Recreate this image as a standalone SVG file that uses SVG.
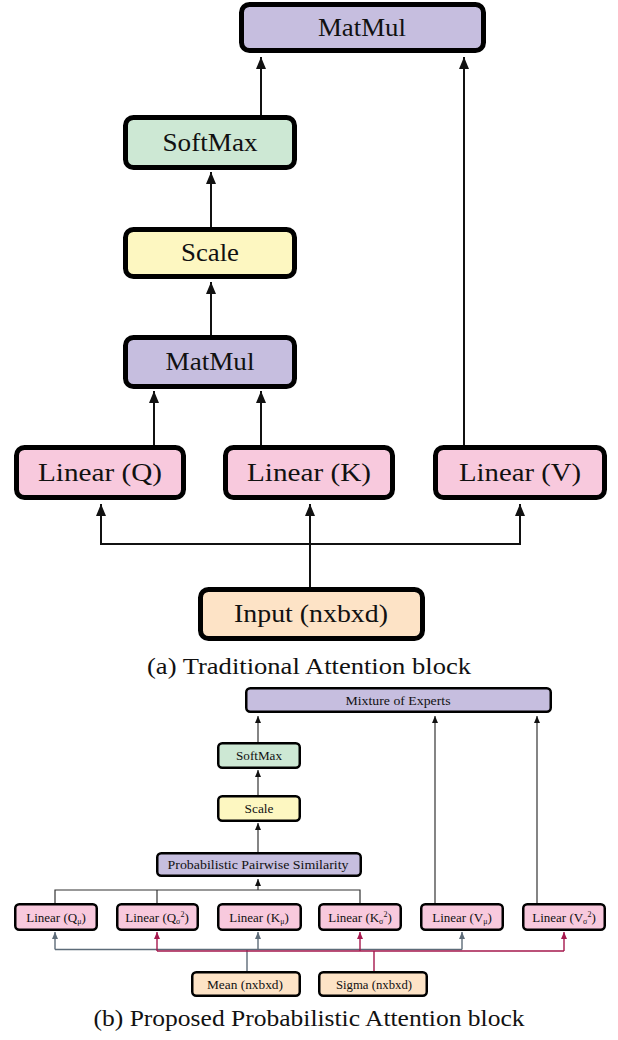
<svg xmlns="http://www.w3.org/2000/svg" width="618" height="1040" viewBox="0 0 618 1040">
  <style>
    text { font-family: "Times New Roman", "Liberation Serif", Tinos, serif; fill: #111; text-anchor: middle; }
    .big { font-size: 26px; }
    .small { font-size: 13px; }
    .cap { font-size: 23px; }
    .boxA { stroke: #000; stroke-width: 5; }
    .boxB { stroke: #000; stroke-width: 2.5; }
    .purple { fill: #c6bedf; }
    .green { fill: #cde8d4; }
    .yellow { fill: #fdf7c1; }
    .pink { fill: #f8c9dd; }
    .peach { fill: #fde3c6; }
    .wA { fill: none; stroke: #111; stroke-width: 2; }
    .wB { fill: none; stroke: #333; stroke-width: 1.2; }
    .wGray { fill: none; stroke: #5d6b78; stroke-width: 1.4; }
    .wRed { fill: none; stroke: #a5174d; stroke-width: 1.4; }
  </style>
  <defs>
    <marker id="arrA" markerUnits="userSpaceOnUse" markerWidth="12" markerHeight="12" viewBox="0 0 12 10" refX="12" refY="5" orient="auto">
      <path d="M0,0 L12,5 L0,10 z" fill="#111"/>
    </marker>
    <marker id="arrB" markerUnits="userSpaceOnUse" markerWidth="7" markerHeight="7" viewBox="0 0 7 6" refX="7" refY="3" orient="auto">
      <path d="M0,0 L7,3 L0,6 z" fill="#111"/>
    </marker>
    <marker id="arrGray" markerUnits="userSpaceOnUse" markerWidth="7" markerHeight="7" viewBox="0 0 7 6" refX="7" refY="3" orient="auto">
      <path d="M0,0 L7,3 L0,6 z" fill="#5d6b78"/>
    </marker>
    <marker id="arrRed" markerUnits="userSpaceOnUse" markerWidth="7" markerHeight="7" viewBox="0 0 7 6" refX="7" refY="3" orient="auto">
      <path d="M0,0 L7,3 L0,6 z" fill="#a5174d"/>
    </marker>
  </defs>

  <!-- (a) traditional attention: connectors -->
  <g id="connectors-a">
    <path class="wA" d="M261,115 V57" marker-end="url(#arrA)"/>
    <path class="wA" d="M464,445 V57" marker-end="url(#arrA)"/>
    <path class="wA" d="M211,227 V172" marker-end="url(#arrA)"/>
    <path class="wA" d="M211,335 V282" marker-end="url(#arrA)"/>
    <path class="wA" d="M154,445 V391" marker-end="url(#arrA)"/>
    <path class="wA" d="M261,445 V391" marker-end="url(#arrA)"/>
    <path class="wA" d="M310,587 V504" marker-end="url(#arrA)"/>
    <path class="wA" d="M310,544 H101 V504" marker-end="url(#arrA)"/>
    <path class="wA" d="M310,544 H520 V504" marker-end="url(#arrA)"/>
  </g>

  <!-- (a) nodes -->
  <g id="a-matmul-out">
    <rect class="boxA purple" x="241.5" y="4.5" width="242" height="46" rx="8"/>
    <text class="big" x="362" y="36" textLength="88" lengthAdjust="spacingAndGlyphs">MatMul</text>
  </g>
  <g id="a-softmax">
    <rect class="boxA green" x="125.5" y="117.5" width="169" height="50" rx="8"/>
    <text class="big" x="210" y="151" textLength="95" lengthAdjust="spacingAndGlyphs">SoftMax</text>
  </g>
  <g id="a-scale">
    <rect class="boxA yellow" x="125.5" y="229.5" width="169" height="47" rx="8"/>
    <text class="big" x="210" y="261" textLength="58" lengthAdjust="spacingAndGlyphs">Scale</text>
  </g>
  <g id="a-matmul">
    <rect class="boxA purple" x="125.5" y="337.5" width="169" height="49" rx="8"/>
    <text class="big" x="210" y="370" textLength="89" lengthAdjust="spacingAndGlyphs">MatMul</text>
  </g>
  <g id="a-linear-q">
    <rect class="boxA pink" x="16.5" y="447.5" width="167" height="50" rx="8"/>
    <text class="big" x="100" y="481" textLength="124" lengthAdjust="spacingAndGlyphs">Linear  (Q)</text>
  </g>
  <g id="a-linear-k">
    <rect class="boxA pink" x="225.5" y="447.5" width="167" height="50" rx="8"/>
    <text class="big" x="309" y="481" textLength="124" lengthAdjust="spacingAndGlyphs">Linear  (K)</text>
  </g>
  <g id="a-linear-v">
    <rect class="boxA pink" x="435.5" y="447.5" width="169" height="50" rx="8"/>
    <text class="big" x="520" y="481" textLength="122" lengthAdjust="spacingAndGlyphs">Linear  (V)</text>
  </g>
  <g id="a-input">
    <rect class="boxA peach" x="200.5" y="589.5" width="222" height="49" rx="8"/>
    <text class="big" x="311" y="622" textLength="154" lengthAdjust="spacingAndGlyphs">Input  (nxbxd)</text>
  </g>
  <text id="caption-a" class="cap" x="309" y="674" textLength="324" lengthAdjust="spacingAndGlyphs">(a) Traditional Attention block</text>

  <!-- (b) probabilistic attention: connectors -->
  <g id="connectors-b">
    <path class="wB" d="M258,742 V716" marker-end="url(#arrB)"/>
    <path class="wB" d="M435,903 V716" marker-end="url(#arrB)"/>
    <path class="wB" d="M537,903 V716" marker-end="url(#arrB)"/>
    <path class="wB" d="M258,795 V770" marker-end="url(#arrB)"/>
    <path class="wB" d="M258,852 V823" marker-end="url(#arrB)"/>
    <path class="wB" d="M258,890 V879" marker-end="url(#arrB)"/>
    <path class="wB" d="M55,903 V890 H360 V903"/>
    <path class="wB" d="M157,890 V903"/>
    <!-- mean distribution fan-out -->
    <path class="wGray" d="M247,971 V949.5"/>
    <path class="wGray" d="M55,949.5 H462"/>
    <path class="wGray" d="M55,949.5 V932" marker-end="url(#arrGray)"/>
    <path class="wGray" d="M258,949.5 V932" marker-end="url(#arrGray)"/>
    <path class="wGray" d="M462,949.5 V932" marker-end="url(#arrGray)"/>
    <!-- sigma distribution fan-out -->
    <path class="wRed" d="M374,971 V951"/>
    <path class="wRed" d="M157,951 H564"/>
    <path class="wRed" d="M157,951 V932" marker-end="url(#arrRed)"/>
    <path class="wRed" d="M360,951 V932" marker-end="url(#arrRed)"/>
    <path class="wRed" d="M564,951 V932" marker-end="url(#arrRed)"/>
  </g>

  <!-- (b) nodes -->
  <g id="b-moe">
    <rect class="boxB purple" x="246.25" y="688.25" width="304.5" height="23.5" rx="4"/>
    <text class="small" x="398" y="704.5" textLength="105" lengthAdjust="spacingAndGlyphs">Mixture  of Experts</text>
  </g>
  <g id="b-softmax">
    <rect class="boxB green" x="218.25" y="743.25" width="81.5" height="24.5" rx="4"/>
    <text class="small" x="259" y="760" textLength="46" lengthAdjust="spacingAndGlyphs">SoftMax</text>
  </g>
  <g id="b-scale">
    <rect class="boxB yellow" x="218.25" y="796.25" width="81.5" height="24.5" rx="4"/>
    <text class="small" x="259" y="813" textLength="29" lengthAdjust="spacingAndGlyphs">Scale</text>
  </g>
  <g id="b-similarity">
    <rect class="boxB purple" x="157.25" y="853.25" width="203.5" height="22.5" rx="4"/>
    <text class="small" x="258" y="869" textLength="181" lengthAdjust="spacingAndGlyphs">Probabilistic  Pairwise  Similarity</text>
  </g>
  <g id="b-linear-q-mu">
    <rect class="boxB pink" x="15.25" y="904.25" width="81.5" height="25.5" rx="4"/>
    <text class="small" x="56" y="921.5">Linear (Q<tspan font-size="8" dy="2">μ</tspan><tspan dy="-2">)</tspan></text>
  </g>
  <g id="b-linear-q-sigma">
    <rect class="boxB pink" x="117.25" y="904.25" width="80.5" height="25.5" rx="4"/>
    <text class="small" x="157" y="921.5">Linear (Q<tspan font-size="8" dy="2">σ</tspan><tspan font-size="8" dy="-7">2</tspan><tspan dy="5">)</tspan></text>
  </g>
  <g id="b-linear-k-mu">
    <rect class="boxB pink" x="218.25" y="904.25" width="82.5" height="25.5" rx="4"/>
    <text class="small" x="259" y="921.5">Linear (K<tspan font-size="8" dy="2">μ</tspan><tspan dy="-2">)</tspan></text>
  </g>
  <g id="b-linear-k-sigma">
    <rect class="boxB pink" x="319.25" y="904.25" width="81.5" height="25.5" rx="4"/>
    <text class="small" x="360" y="921.5">Linear (K<tspan font-size="8" dy="2">σ</tspan><tspan font-size="8" dy="-7">2</tspan><tspan dy="5">)</tspan></text>
  </g>
  <g id="b-linear-v-mu">
    <rect class="boxB pink" x="421.25" y="904.25" width="81.5" height="25.5" rx="4"/>
    <text class="small" x="462" y="921.5">Linear (V<tspan font-size="8" dy="2">μ</tspan><tspan dy="-2">)</tspan></text>
  </g>
  <g id="b-linear-v-sigma">
    <rect class="boxB pink" x="523.25" y="904.25" width="81.5" height="25.5" rx="4"/>
    <text class="small" x="564" y="921.5">Linear (V<tspan font-size="8" dy="2">σ</tspan><tspan font-size="8" dy="-7">2</tspan><tspan dy="5">)</tspan></text>
  </g>
  <g id="b-mean">
    <rect class="boxB peach" x="192.25" y="972.25" width="107.5" height="23.5" rx="4"/>
    <text class="small" x="245" y="988.5" textLength="76" lengthAdjust="spacingAndGlyphs">Mean (nxbxd)</text>
  </g>
  <g id="b-sigma">
    <rect class="boxB peach" x="319.25" y="972.25" width="107.5" height="23.5" rx="4"/>
    <text class="small" x="374" y="988.5" textLength="76" lengthAdjust="spacingAndGlyphs">Sigma (nxbxd)</text>
  </g>
  <text id="caption-b" class="cap" x="309" y="1026" textLength="431" lengthAdjust="spacingAndGlyphs">(b) Proposed Probabilistic Attention block</text>
</svg>
